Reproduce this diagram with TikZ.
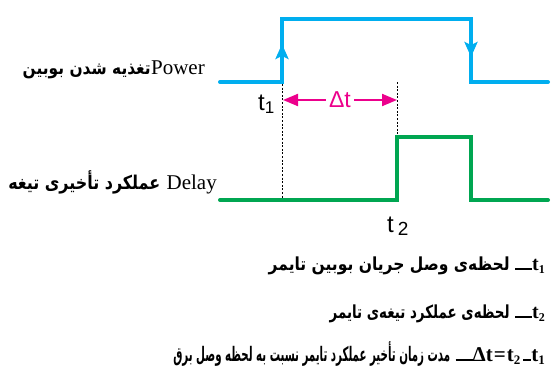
\documentclass[tikz,border=0pt]{standalone}
\usepackage{fontspec}
\usepackage{graphicx}
\setmainfont{Liberation Serif}
\newfontfamily\fafont[Script=Arabic]{DejaVu Sans}
\newfontfamily\sansfont{Liberation Sans}
\TeXXeTstate=1
\usetikzlibrary{arrows.meta}
\definecolor{sigblue}{RGB}{0,174,239}
\definecolor{siggreen}{RGB}{0,166,81}
\definecolor{sigmag}{RGB}{236,0,140}
\newcommand{\fabox}[3]{\resizebox{#1}{\height}{\fafont\bfseries\fontsize{#2}{#2}\selectfont #3}}
\newcommand{\lowdash}[1]{\rule[0pt]{#1}{1.8pt}}
\begin{document}
\begin{tikzpicture}[x=1pt,y=-1pt,
  bluesig/.style={draw=sigblue,line width=4pt,line cap=round,line join=miter},
  greensig/.style={draw=siggreen,line width=4pt,line cap=round,line join=miter},
  bluetip/.style={draw=sigblue,line width=4pt,-{Stealth[length=15pt,width=13pt,inset=3pt]}},
  guide/.style={draw=black,line width=0.9pt,dash pattern=on 2pt off 1.6pt},
  dtarrow/.style={draw=sigmag,line width=2pt,-{Triangle[length=15pt,width=12pt]}},
  latinlbl/.style={inner sep=0pt,font=\fontsize{21}{23}\selectfont},
  falbl/.style={inner sep=0pt},
  tlbl/.style={inner sep=0pt,font=\sansfont\fontsize{24}{26}\selectfont},
  dtlbl/.style={inner sep=0pt,text=sigmag,font=\sansfont\fontsize{23}{25}\selectfont},
  boldlatin/.style={inner sep=0pt,font=\bfseries\fontsize{20}{22}\selectfont}
]
\useasboundingbox (0,0) rectangle (558,389);
% power signal
\coordinate (b0) at (220,82);
\coordinate (b1) at (282,82);
\coordinate (b2) at (282,19);
\coordinate (b3) at (471,19);
\coordinate (b4) at (471,82);
\coordinate (b5) at (548,82);
\coordinate (bu) at (282,44);
\coordinate (bd) at (471,57);
\draw[bluesig] (b0) -- (b1) -- (b2) -- (b3) -- (b4) -- (b5);
\draw[bluetip] (b1) -- (bu);
\draw[bluetip] (b3) -- (bd);
% delay signal
\coordinate (g0) at (220,200);
\coordinate (g1) at (397,200);
\coordinate (g2) at (397,137);
\coordinate (g3) at (471,137);
\coordinate (g4) at (471,200);
\coordinate (g5) at (548,200);
\draw[greensig] (g0) -- (g1) -- (g2) -- (g3) -- (g4) -- (g5);
% guides
\coordinate (d1top) at (282,84);
\coordinate (d1bot) at (282,198);
\coordinate (d2top) at (397,82);
\coordinate (d2bot) at (397,135);
\draw[guide] (d1top) -- (d1bot);
\draw[guide] (d2top) -- (d2bot);
% delta t
\node[dtlbl] (dt) at (340,100) {Δt};
\coordinate (dtl) at (283,100);
\coordinate (dtr) at (397,100);
\draw[dtarrow] ([xshift=-3pt]dt.west) -- (dtl);
\draw[dtarrow] ([xshift=3pt]dt.east) -- (dtr);
% t labels
\node[tlbl,anchor=base west] (t1) at (258,110) {t\raisebox{-3pt}{\fontsize{17}{18}\selectfont 1}};
\node[tlbl,anchor=base west] (t2) at (387,232) {t\hspace{4pt}\raisebox{-3pt}{\fontsize{19}{20}\selectfont 2}};
% signal names
\node[latinlbl,anchor=base east] (pw) at (205,74) {Power};
\node[falbl,anchor=base east] (pwfa) at (pw.base west) {\fabox{128pt}{18pt}{\beginR تغذیه شدن بوبین\endR}};
\node[latinlbl,anchor=base east] (dl) at (217,189) {Delay};
\node[falbl,anchor=base east] (dlfa) at ([xshift=-6pt]dl.base west) {\fabox{152pt}{19pt}{\beginR عملکرد تأخیری تیغه\endR}};
% legend
\node[boldlatin,anchor=base east] (l1) at (545,270) {\lowdash{17pt}t\raisebox{-3pt}{\fontsize{12}{13}\selectfont 1}};
\node[falbl,anchor=base east] (l1fa) at ([xshift=-5pt]l1.base west) {\fabox{241pt}{18pt}{\beginR لحظه‌ی وصل جریان بوبین تایمر\endR}};
\node[boldlatin,anchor=base east] (l2) at (545,318) {\lowdash{17pt}t\raisebox{-3pt}{\fontsize{12}{13}\selectfont 2}};
\node[falbl,anchor=base east] (l2fa) at ([xshift=-5pt]l2.base west) {\fabox{180pt}{18pt}{\beginR لحظه‌ی عملکرد تیغه‌ی تایمر\endR}};
\node[boldlatin,anchor=base east] (l3) at (545,361) {\lowdash{17pt}\fontsize{21}{23}\selectfont Δt\hspace{1pt}=\hspace{1pt}t\raisebox{-3pt}{\fontsize{13}{14}\selectfont 2}\hspace{3pt}\lowdash{8pt}t\raisebox{-3pt}{\fontsize{13}{14}\selectfont 1}};
\node[falbl,anchor=base east] (l3fa) at ([xshift=-5pt]l3.base west) {\fabox{277pt}{20pt}{\beginR مدت زمان تأخیر عملکرد تایمر نسبت به لحظه وصل برق\endR}};
\end{tikzpicture}
\end{document}
